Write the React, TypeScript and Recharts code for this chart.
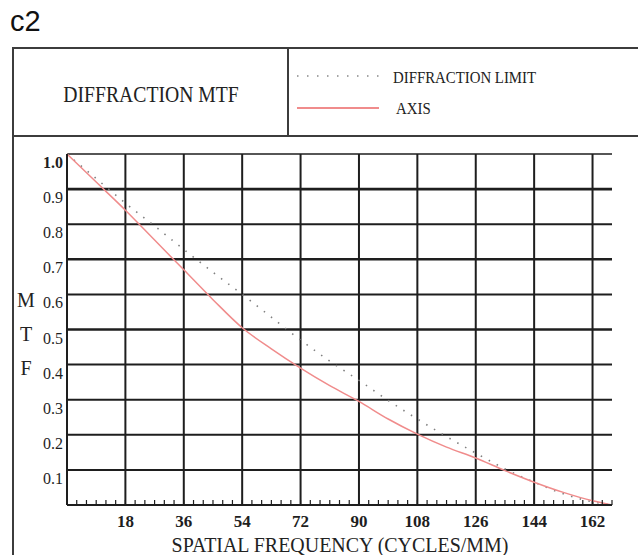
import { LineChart, Line, XAxis, YAxis, ReferenceLine } from 'recharts';

// spatial frequency (cycles/mm) and MTF values
const frequency = [0, 9, 18, 27, 36, 45, 54, 63, 72, 81, 90, 99, 108, 117, 126, 135, 144, 153, 162, 168];
const diffractionLimit = [1.0, 0.93, 0.86, 0.795, 0.728, 0.663, 0.6, 0.535, 0.47, 0.41, 0.355, 0.298, 0.245, 0.195, 0.148, 0.103, 0.065, 0.032, 0.009, 0];
const axisMtf = [1.0, 0.92, 0.84, 0.755, 0.67, 0.585, 0.505, 0.445, 0.39, 0.34, 0.295, 0.245, 0.202, 0.165, 0.134, 0.098, 0.065, 0.036, 0.012, 0];

const xLabels = [18, 36, 54, 72, 90, 108, 126, 144, 162];
const xMinorTicks = Array.from({ length: 57 }, (_, i) => i * 3);
const yTicks = [0.1, 0.2, 0.3, 0.4, 0.5, 0.6, 0.7, 0.8, 0.9, 1.0];
const heavyRows = [0.9, 0.7, 0.5];

const data = frequency.map((f, i) => ({ f, limit: diffractionLimit[i], axis: axisMtf[i] }));

const SERIF = '"Liberation Serif", "Times New Roman", serif';
const INK = '#1e1e1e';
const FRAME = '#3c3c3c';
const PINK = '#f08c8c';

function XTick(props: any) {
  const { x, y, payload } = props;
  const v = payload.value;
  return (
    <g>
      <line x1={x} y1={y} x2={x} y2={y - 5} stroke={INK} strokeWidth={1.2} />
      {xLabels.includes(v) && (
        <text x={x} y={y + 22} textAnchor="middle" fontFamily={SERIF} fontSize={17} fontWeight="bold" fill={INK}>
          {v}
        </text>
      )}
    </g>
  );
}

function YTick(props: any) {
  const { x, y, payload } = props;
  const v = payload.value;
  return (
    <text
      x={x - 4}
      y={y + 14}
      textAnchor="end"
      fontFamily={SERIF}
      fontSize={16}
      fontWeight={v === 1 ? 'bold' : 'normal'}
      fill={INK}
    >
      {v.toFixed(1)}
    </text>
  );
}

export default function App() {
  return (
    <div style={{ position: 'absolute', left: 0, top: 0, width: 638, height: 555, background: '#fff' }}>
      <LineChart width={638} height={555} data={data} margin={{ top: 154, right: 26, bottom: 10, left: 27 }}>
        <XAxis
          dataKey="f"
          type="number"
          domain={[0, 168]}
          ticks={xMinorTicks}
          interval={0}
          tickSize={0}
          tickMargin={0}
          tickLine={false}
          tick={XTick}
          height={40}
          axisLine={{ stroke: INK, strokeWidth: 2 }}
        />
        <YAxis
          type="number"
          domain={[0, 1]}
          ticks={yTicks}
          interval={0}
          tickSize={0}
          tickMargin={0}
          tickLine={false}
          tick={YTick}
          width={40}
          axisLine={{ stroke: INK, strokeWidth: 2 }}
        />
        {xLabels.map((v) => (
          <ReferenceLine key={'x' + v} x={v} stroke={INK} strokeWidth={2} />
        ))}
        {yTicks.map((v) => (
          <ReferenceLine
            key={'y' + v}
            y={v}
            stroke={INK}
            strokeWidth={heavyRows.includes(v) ? 2.6 : v === 1 ? 1.6 : 2}
          />
        ))}
        <Line
          type="monotone"
          dataKey="limit"
          stroke="#808080"
          strokeWidth={1.6}
          strokeDasharray="1.5 7.5"
          dot={false}
          isAnimationActive={false}
        />
        <Line type="monotone" dataKey="axis" stroke={PINK} strokeWidth={1.5} dot={false} isAnimationActive={false} />
      </LineChart>

      <svg width={638} height={555} style={{ position: 'absolute', left: 0, top: 0, pointerEvents: 'none' }}>
        <text x={10} y={31} fontFamily='"Liberation Sans", Arial, sans-serif' fontSize={29} fill="#111">
          c2
        </text>

        <line x1={13} y1={48} x2={638} y2={48} stroke={FRAME} strokeWidth={2} />
        <line x1={13} y1={47} x2={13} y2={555} stroke={FRAME} strokeWidth={2} />
        <line x1={13} y1={136} x2={638} y2={136} stroke={FRAME} strokeWidth={2} />
        <line x1={288} y1={48} x2={288} y2={136} stroke={FRAME} strokeWidth={2} />

        <text transform="translate(151,102) scale(0.82,1)" textAnchor="middle" fontFamily={SERIF} fontSize={24} fill="#222">
          DIFFRACTION MTF
        </text>

        <line x1={297} y1={76} x2={379} y2={76} stroke="#888" strokeWidth={1.6} strokeDasharray="1.5 8.5" />
        <text transform="translate(393,83) scale(0.9,1)" fontFamily={SERIF} fontSize={16.5} fill="#222">
          DIFFRACTION LIMIT
        </text>
        <line x1={297} y1={108} x2={379} y2={108} stroke={PINK} strokeWidth={1.8} />
        <text transform="translate(396,114) scale(0.9,1)" fontFamily={SERIF} fontSize={16.5} fill="#222">
          AXIS
        </text>

        <text x={26} y={307} textAnchor="middle" fontFamily={SERIF} fontSize={20} fill="#222">M</text>
        <text x={26} y={341} textAnchor="middle" fontFamily={SERIF} fontSize={20} fill="#222">T</text>
        <text x={26} y={375} textAnchor="middle" fontFamily={SERIF} fontSize={20} fill="#222">F</text>

        <text transform="translate(340,552) scale(0.95,1)" textAnchor="middle" fontFamily={SERIF} fontSize={21} fill="#222">
          SPATIAL FREQUENCY (CYCLES/MM)
        </text>
      </svg>
    </div>
  );
}
